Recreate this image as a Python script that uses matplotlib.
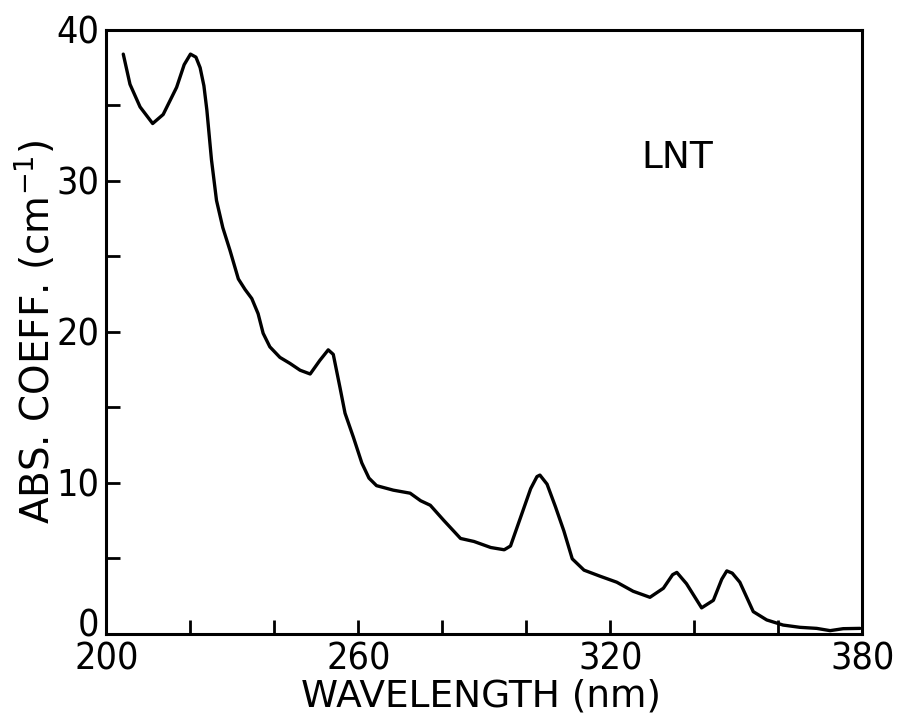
import matplotlib
matplotlib.use("Agg")
import matplotlib.pyplot as plt
from matplotlib.ticker import FixedLocator, FuncFormatter
from matplotlib.transforms import ScaledTranslation

# absorption spectrum of LNT
wavelength = [204.0, 205.6, 208.0, 211.0, 213.5, 216.7, 218.5, 220.0, 221.3, 222.3,
              223.2, 223.9, 225.0, 226.2, 227.7, 229.4, 231.4, 233.0, 234.6, 236.1, 237.3,
              238.9, 241.3, 243.7, 246.1, 248.5, 250.8, 252.8, 254.0, 255.6, 256.8,
              258.8, 260.8, 262.5, 264.3, 268.3, 272.3, 274.8, 277.1, 280.3, 284.3,
              287.5, 291.5, 294.7, 296.2, 298.6, 301.0, 302.5, 303.2, 304.9, 306.9,
              308.9, 310.9, 313.7, 317.5, 321.5, 325.4, 329.4, 332.6, 334.8, 335.8,
              338.1, 341.7, 344.5, 346.5, 347.7, 349.0, 350.8, 354.0, 357.2, 361.1,
              365.1, 369.1, 372.3, 375.4, 379.4]
abs_coeff = [38.4, 36.4, 34.9, 33.8, 34.4, 36.2, 37.7, 38.4, 38.2, 37.5,
             36.3, 34.7, 31.4, 28.7, 26.9, 25.4, 23.5, 22.8, 22.2, 21.2, 19.9,
             19.0, 18.3, 17.9, 17.45, 17.2, 18.1, 18.8, 18.5, 16.3, 14.6,
             13.0, 11.3, 10.3, 9.8, 9.5, 9.3, 8.8, 8.5, 7.5, 6.3,
             6.1, 5.7, 5.55, 5.8, 7.7, 9.6, 10.4, 10.5, 9.9, 8.4,
             6.8, 4.95, 4.2, 3.8, 3.4, 2.8, 2.4, 3.0, 3.9, 4.05,
             3.3, 1.7, 2.2, 3.6, 4.15, 4.0, 3.4, 1.45, 0.9, 0.56,
             0.41, 0.34, 0.19, 0.32, 0.34]

x_ticks = list(range(200, 381, 20))
x_labeled = [200, 260, 320, 380]
y_ticks = list(range(0, 41, 5))
y_labeled = [0, 10, 20, 30, 40]

plt.rcParams["font.family"] = ["DejaVu Sans"]

fig = plt.figure(figsize=(9, 7.19), dpi=100)
ax = fig.add_axes([0.1183, 0.1189, 0.84, 0.8394])

ax.plot(wavelength, abs_coeff, color="black", lw=2.4,
        solid_joinstyle="round", solid_capstyle="round")

ax.set_xlim(200, 380)
ax.set_ylim(0, 40)
ax.xaxis.set_major_locator(FixedLocator(x_ticks))
ax.yaxis.set_major_locator(FixedLocator(y_ticks))
ax.xaxis.set_major_formatter(FuncFormatter(lambda v, p: f"{v:.0f}" if round(v) in x_labeled else ""))
ax.yaxis.set_major_formatter(FuncFormatter(lambda v, p: f"{v:.0f}" if round(v) in y_labeled else ""))
ax.tick_params(direction="in", length=10, width=2, labelsize=27, colors="black")
ax.tick_params(axis="x", pad=6)
ax.tick_params(axis="y", pad=5)
for lbl in ax.get_xticklabels() + ax.get_yticklabels():
    lbl.set_fontstretch("condensed")

# the "0" on the y axis sits a little above the corner, clear of "200"
zero = ax.yaxis.get_major_ticks()[0].label1
zero.set_transform(zero.get_transform() + ScaledTranslation(0, 8 / 72, fig.dpi_scale_trans))

for s in ax.spines.values():
    s.set_linewidth(2.2)
    s.set_color("black")

ax.set_xlabel("WAVELENGTH (nm)", fontsize=27)
ax.xaxis.set_label_coords(0.495, -0.074)
ax.set_ylabel("ABS. COEFF. (cm$^{-1}$)", fontsize=28)
ax.yaxis.set_label_coords(-0.066, 0.5)
ax.text(335.8, 31.5, "LNT", fontsize=27, ha="center", va="center")

fig.savefig("out.png", dpi=100)
